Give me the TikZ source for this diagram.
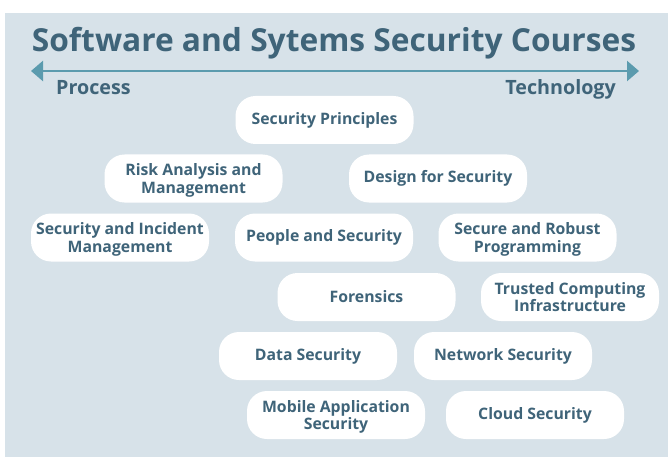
\documentclass[tikz,border=0pt]{standalone}
\usepackage{fontspec}
\setmainfont{Open Sans}
\usetikzlibrary{arrows.meta}
\definecolor{panel}{HTML}{D7E2E9}
\definecolor{ink}{HTML}{3F6479}
\definecolor{axis}{HTML}{5B9BAE}
\tikzset{
  course/.style={fill=white, rounded corners=20pt, minimum width=178pt, minimum height=48pt,
    inner sep=0pt, align=center, text=ink, font=\fontsize{15.8}{17.3}\selectfont\bfseries},
  twoline/.style={course, text depth=0pt},
  axislabel/.style={text=ink, font=\fontsize{19.7}{21}\selectfont\bfseries, anchor=base west, inner sep=0pt}
}
\begin{document}
\begin{tikzpicture}[x=1pt,y=-1pt]
\useasboundingbox (0,0) rectangle (668,457);
\fill[panel] (5,13) rectangle (668,457);
\node[text=ink, font=\fontsize{31.7}{34}\selectfont\bfseries, anchor=base, inner sep=0pt] (title) at (334,52) {Software and Sytems Security Courses};
\coordinate (L) at (31,71);
\coordinate (R) at (639,71);
\draw[axis, line width=2.5pt, {Triangle[length=12pt,width=20pt]}-{Triangle[length=12pt,width=20pt]}] (L) -- (R);
\node[axislabel] (proc) at (56,95) {Process};
\node[axislabel, anchor=base east] (tech) at (616,95) {Technology};
\node[course] (sp) at (324.5,120) {Security Principles};
\node[twoline] (ra) at (193.5,178.5) {Risk Analysis and\\Management};
\node[course] (ds) at (438,178.5) {Design for Security};
\node[twoline] (si) at (120,237.5) {Security and Incident\\Management};
\node[course] (ps) at (324,237.5) {People and Security};
\node[twoline] (sr) at (527.5,237.5) {Secure and Robust\\Programming};
\node[course] (fo) at (366.5,297) {Forensics};
\node[twoline] (tc) at (570,297) {Trusted Computing\\Infrastructure};
\node[course] (da) at (308,356) {Data Security};
\node[course] (ns) at (503,356) {Network Security};
\node[twoline] (ma) at (336,415) {Mobile Application\\Security};
\node[course] (cs) at (535,415) {Cloud Security};
\end{tikzpicture}
\end{document}
